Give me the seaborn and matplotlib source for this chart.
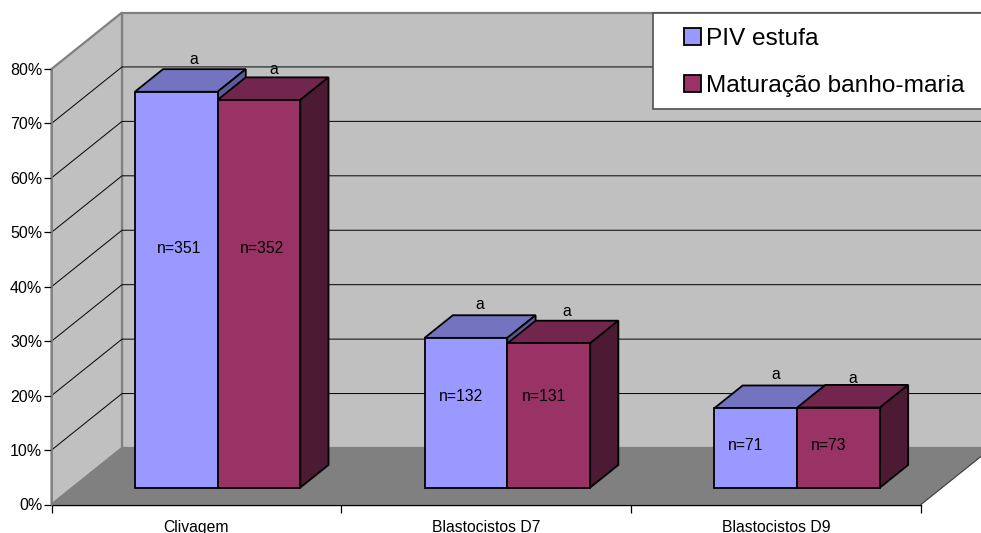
import matplotlib
matplotlib.use("Agg")
import matplotlib.pyplot as plt
from matplotlib.patches import Patch, Polygon, Rectangle
import pandas as pd
import seaborn as sns

# values
categories = ["Clivagem", "Blastocistos D7", "Blastocistos D9"]
series_names = ["PIV estufa", "Maturação banho-maria"]
piv_estufa = [72.7, 27.5, 14.6]
maturacao = [71.2, 26.5, 14.7]
n_piv = ["n=351", "n=132", "n=71"]
n_maturacao = ["n=352", "n=131", "n=73"]
signif_piv = ["a", "a", "a"]
signif_maturacao = ["a", "a", "a"]
y_ticks = [0, 10, 20, 30, 40, 50, 60, 70, 80]

front_colors = ["#9999FF", "#993366"]
top_colors = ["#7373BF", "#73264D"]
side_colors = ["#5C5C99", "#4D1A33"]

W, H = 981, 533
sns.set_theme(style="white")
plt.rcParams["font.family"] = ["Liberation Sans", "DejaVu Sans"]

fig = plt.figure(figsize=(W / 100, H / 100), dpi=100)
ax = fig.add_axes([51.5 / W, (H - 504.5) / H, 869.5 / W, 435.5 / H])

df = pd.DataFrame({
    "categoria": categories * 2,
    "grupo": [series_names[0]] * 3 + [series_names[1]] * 3,
    "valor": piv_estufa + maturacao,
})
sns.barplot(data=df, x="categoria", y="valor", hue="grupo", hue_order=series_names,
            palette=front_colors, saturation=1, width=0.571, gap=0,
            edgecolor="black", linewidth=1.3, legend=False, ax=ax)
ax.set_xlim(-0.5, 2.5)
ax.set_ylim(0, 80)

# depth of the fake 3d box, in data units
DX = 70.5 / (869.5 / 3)
DY = 56.5 / (435.5 / 80)
BAR_START = 0.30  # how far back the bars stand
BAR_DEPTH = 0.40

# back wall, side wall, floor
ax.add_patch(Polygon([(-0.5 + DX, DY), (2.5 + DX, DY), (2.5 + DX, 80 + DY), (-0.5 + DX, 80 + DY)],
                     fc="#C0C0C0", ec="#808080", lw=1.6, clip_on=False, zorder=0))
ax.add_patch(Polygon([(-0.5, 0), (-0.5 + DX, DY), (-0.5 + DX, 80 + DY), (-0.5, 80)],
                     fc="#C0C0C0", ec="#808080", lw=1.6, clip_on=False, zorder=0.1))
ax.add_patch(Polygon([(-0.5, 0), (2.5, 0), (2.5 + DX, DY), (-0.5 + DX, DY)],
                     fc="#808080", ec="#808080", lw=0.5, clip_on=False, zorder=0.2))
ax.plot([2.5, 2.5 + DX], [0, DY], color="#404040", lw=0.8, clip_on=False, zorder=0.3)

# gridlines on both walls
for t in y_ticks[1:-1]:
    ax.plot([-0.5, -0.5 + DX, 2.5 + DX], [t, t + DY, t + DY], color="black", lw=0.7,
            clip_on=False, zorder=0.5)

# label nudges in pixels, excel did not place these evenly
n_height_frac = [0.605, 0.61, 0.53]
n_shift = [3, -5, -10]
sig_shift_x = [[18, 14, 20], [15, 18, 14]]
sig_shift_y = [[32, 33, 34], [30, 32, 29]]

# turn the flat seaborn bars into boxes
for s, container in enumerate(ax.containers):
    base = 2 + 2 * s
    for i, bar in enumerate(container):
        bar.set_x(bar.get_x() + BAR_START * DX)
        bar.set_y(BAR_START * DY)
        bar.set_clip_on(False)
        bar.set_zorder(base + 1)
        x0, x1 = bar.get_x(), bar.get_x() + bar.get_width()
        y0, y1 = bar.get_y(), bar.get_y() + bar.get_height()
        ddx, ddy = BAR_DEPTH * DX, BAR_DEPTH * DY
        ax.add_patch(Polygon([(x0, y1), (x1, y1), (x1 + ddx, y1 + ddy), (x0 + ddx, y1 + ddy)],
                             fc=top_colors[s], ec="black", lw=1.3, clip_on=False, zorder=base))
        ax.add_patch(Polygon([(x1, y0), (x1 + ddx, y0 + ddy), (x1 + ddx, y1 + ddy), (x1, y1)],
                             fc=side_colors[s], ec="black", lw=1.3, clip_on=False, zorder=base))

        n_text = (n_piv if s == 0 else n_maturacao)[i]
        ax.annotate(n_text, ((x0 + x1) / 2, y0 + n_height_frac[i] * piv_estufa[i]),
                    xytext=(n_shift[i] * 0.72, 0), textcoords="offset points",
                    ha="center", va="center", fontsize=11.3, color="black", zorder=10)
        sig = (signif_piv if s == 0 else signif_maturacao)[i]
        ax.annotate(sig, ((x0 + x1) / 2, y1), xytext=(sig_shift_x[s][i] * 0.72, sig_shift_y[s][i] * 0.72),
                    textcoords="offset points", ha="center", va="center", fontsize=11.3,
                    color="black", zorder=10, annotation_clip=False)

# axes
for name in ["top", "right"]:
    ax.spines[name].set_visible(False)
ax.spines["left"].set_color("#808080")
ax.spines["left"].set_linewidth(1.2)
ax.spines["bottom"].set_color("black")
ax.spines["bottom"].set_linewidth(1.0)
ax.spines["bottom"].set_zorder(1)
ax.set_xlabel("")
ax.set_ylabel("")
ax.set_yticks(y_ticks, [f"{t}%" for t in y_ticks], fontsize=11.5)
ax.tick_params(axis="y", length=5.8, width=0.9, pad=0.8, color="black", labelcolor="black", left=True)
ax.set_xticks([-0.5, 0.5, 1.5, 2.5], [])
ax.set_xticks([0, 1, 2], categories, minor=True, fontsize=11.3)
ax.tick_params(axis="x", which="major", length=5.5, width=0.9, color="black", bottom=True)
ax.tick_params(axis="x", which="minor", length=0, pad=11, color="black", labelcolor="black")

# legend box, runs off the right edge like the original
fig.add_artist(Rectangle((653 / W, (H - 109) / H), 340 / W, 96 / H, fc="white", ec="#505050",
                         lw=1.2, transform=fig.transFigure, zorder=20))
handles = [Patch(fc=c, ec="black", lw=1.3) for c in front_colors]
fig.legend(handles, series_names, loc="upper left", bbox_to_anchor=(684 / W, 1 - 27.5 / H),
           borderaxespad=0, borderpad=0, frameon=False, fontsize=17.6, handlelength=0.7,
           handleheight=0.7, handletextpad=0.2, labelspacing=1.05, labelcolor="black").set_zorder(21)

fig.savefig("out.png", dpi=100)
